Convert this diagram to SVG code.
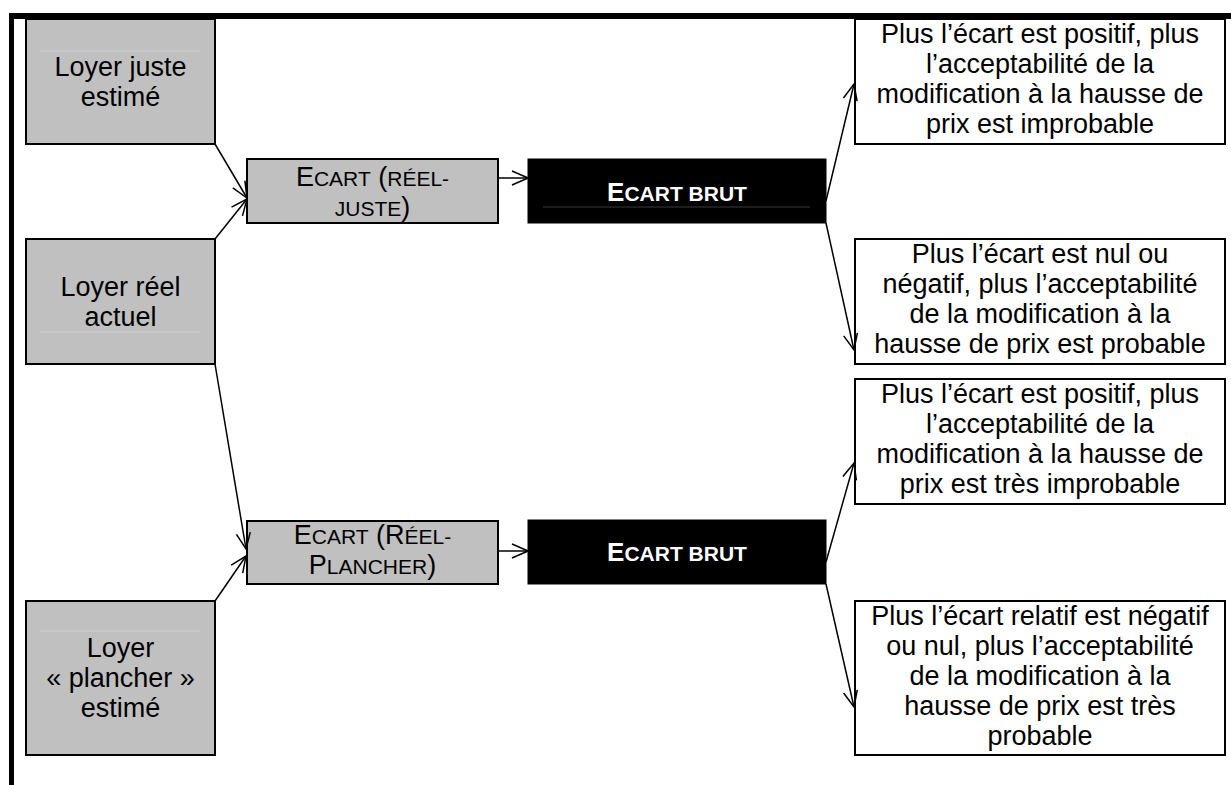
<svg xmlns="http://www.w3.org/2000/svg" width="1231" height="785" viewBox="0 0 1231 785">
  <style>
    .txt { font-family: "Liberation Sans", Arial, sans-serif; font-size: 27px; fill: #000; text-anchor: middle; }
    .sc { font-size: 21px; }
    .src { fill: #c0c0c0; stroke: #000; stroke-width: 2; }
    .gap { fill: #c0c0c0; stroke: #000; stroke-width: 2; }
    .raw { fill: #000; stroke: #000; stroke-width: 1; }
    .raw-txt { font-family: "Liberation Sans", Arial, sans-serif; font-size: 26px; font-weight: bold; fill: #fff; text-anchor: middle; }
    .out { fill: #fff; stroke: #000; stroke-width: 2; }
    .rule { stroke: #d2d2d2; stroke-width: 1; }
    .link { fill: none; stroke: #000; stroke-width: 1.5; marker-end: url(#open); }
  </style>
  <defs>
    <marker id="open" viewBox="0 0 18 16" refX="17" refY="8" markerWidth="18" markerHeight="16" markerUnits="userSpaceOnUse" orient="auto">
      <path d="M1,1 L17,8 L1,15" fill="none" stroke="#000" stroke-width="1.5"/>
    </marker>
  </defs>

  <rect x="0" y="0" width="1231" height="785" fill="#fff"/>

  <!-- page frame -->
  <g id="frame" fill="#000">
    <rect x="9" y="13" width="1222" height="6"/>
    <rect x="9" y="13" width="5" height="772"/>
  </g>

  <!-- input rents -->
  <g id="loyer-juste">
    <rect class="src" x="26" y="19" width="189" height="125"/>
    <line class="rule" x1="40" y1="51" x2="200" y2="51"/>
    <text class="txt" x="120.5" y="76">Loyer juste</text>
    <text class="txt" x="120.5" y="106">estimé</text>
  </g>
  <g id="loyer-reel">
    <rect class="src" x="26" y="239" width="189" height="125"/>
    <line class="rule" x1="40" y1="332" x2="200" y2="332"/>
    <text class="txt" x="120.5" y="296">Loyer réel</text>
    <text class="txt" x="120.5" y="326">actuel</text>
  </g>
  <g id="loyer-plancher">
    <rect class="src" x="26" y="601" width="189" height="154"/>
    <line class="rule" x1="40" y1="631" x2="200" y2="631"/>
    <text class="txt" x="120.5" y="657">Loyer</text>
    <text class="txt" x="120.5" y="687">« plancher »</text>
    <text class="txt" x="120.5" y="717">estimé</text>
  </g>

  <!-- differences -->
  <g id="ecart-reel-juste">
    <rect class="gap" x="247" y="159" width="251" height="64"/>
    <text class="txt" x="372.5" y="186">E<tspan class="sc">CART</tspan> (<tspan class="sc">RÉEL-</tspan></text>
    <text class="txt" x="372.5" y="216"><tspan class="sc">JUSTE</tspan>)</text>
  </g>
  <g id="ecart-reel-plancher">
    <rect class="gap" x="247" y="521" width="251" height="63"/>
    <text class="txt" x="372.5" y="544">E<tspan class="sc">CART</tspan> (R<tspan class="sc">ÉEL-</tspan></text>
    <text class="txt" x="372.5" y="574">P<tspan class="sc">LANCHER</tspan>)</text>
  </g>

  <!-- raw gaps -->
  <g id="ecart-brut-1">
    <rect class="raw" x="528" y="159" width="298" height="64"/>
    <line x1="543" y1="207" x2="810" y2="207" stroke="#3a3a3a" stroke-width="1"/>
    <text class="raw-txt" x="677" y="201">E<tspan class="sc">CART BRUT</tspan></text>
  </g>
  <g id="ecart-brut-2">
    <rect class="raw" x="528" y="520" width="298" height="64"/>
    <text class="raw-txt" x="677" y="561">E<tspan class="sc">CART BRUT</tspan></text>
  </g>

  <!-- interpretations -->
  <g id="interp-1">
    <rect class="out" x="855" y="19" width="370" height="125"/>
    <text class="txt" x="1040" y="43">Plus l’écart est positif, plus</text>
    <text class="txt" x="1040" y="73">l’acceptabilité de la</text>
    <text class="txt" x="1040" y="103">modification à la hausse de</text>
    <text class="txt" x="1040" y="133">prix est improbable</text>
  </g>
  <g id="interp-2">
    <rect class="out" x="855" y="239" width="370" height="125"/>
    <text class="txt" x="1040" y="263">Plus l’écart est nul ou</text>
    <text class="txt" x="1040" y="293">négatif, plus l’acceptabilité</text>
    <text class="txt" x="1040" y="323">de la modification à la</text>
    <text class="txt" x="1040" y="353">hausse de prix est probable</text>
  </g>
  <g id="interp-3">
    <rect class="out" x="855" y="379" width="370" height="125"/>
    <text class="txt" x="1040" y="403">Plus l’écart est positif, plus</text>
    <text class="txt" x="1040" y="433">l’acceptabilité de la</text>
    <text class="txt" x="1040" y="463">modification à la hausse de</text>
    <text class="txt" x="1040" y="493">prix est très improbable</text>
  </g>
  <g id="interp-4">
    <rect class="out" x="855" y="601" width="370" height="154"/>
    <text class="txt" x="1040" y="625">Plus l’écart relatif est négatif</text>
    <text class="txt" x="1040" y="655">ou nul, plus l’acceptabilité</text>
    <text class="txt" x="1040" y="685">de la modification à la</text>
    <text class="txt" x="1040" y="715">hausse de prix est très</text>
    <text class="txt" x="1040" y="745">probable</text>
  </g>

  <!-- connectors -->
  <g id="connectors">
    <line class="link" x1="215" y1="144" x2="247" y2="198"/>
    <line class="link" x1="215" y1="239" x2="247" y2="199"/>
    <line class="link" x1="215" y1="364" x2="246" y2="549"/>
    <line class="link" x1="215" y1="601" x2="246" y2="556"/>
    <line class="link" x1="498" y1="178" x2="528" y2="178"/>
    <line class="link" x1="498" y1="551" x2="528" y2="551"/>
    <line class="link" x1="826" y1="201" x2="854" y2="84"/>
    <line class="link" x1="826" y1="223" x2="854" y2="350"/>
    <line class="link" x1="826" y1="562" x2="854" y2="463"/>
    <line class="link" x1="826" y1="584" x2="854" y2="707"/>
  </g>
</svg>
